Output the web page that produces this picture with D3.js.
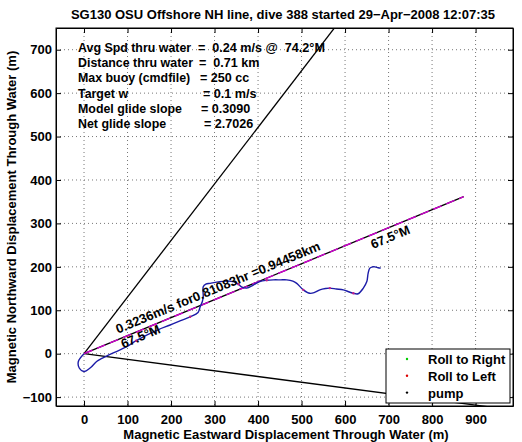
<!DOCTYPE html>
<html><head><meta charset="utf-8">
<script src="https://cdn.jsdelivr.net/npm/d3@7"></script>
<style>
body{margin:0;background:#fff;}
text{font-family:"Liberation Sans",Arial,Helvetica,sans-serif;font-weight:bold;}
</style></head>
<body>
<script>
// ---- data ----
const xTicks = [0,100,200,300,400,500,600,700,800,900];
const yTicks = [-100,0,100,200,300,400,500,600,700];
const trackX = [0,-13,-11,0,14,29,41,70,98,120,144,170,198,222,244,262,267,272,274,274,280,290,312,330,343,355,362,374,389,404,420,435,452,466,480,489,504,519,530,542,555,565,580,596,610,619,630,642,650,653,657,663,669,676,682];
const trackY = [0,-18,-33,-41,-33,-18,-11,3,16,30,43,55,66,76,85,95,108,120,131,154,160,162,166,167,166,160,154,151,158,166,169,170,170,170,167,162,147,139,141,147,150,151,149,147,142,139,138,151,166,185,197,200,200,198,197];
const headingLines = [37.5, 97.5];     // bounding headings (deg M)
const netHeading = 67.5;               // net heading (deg M)
const netDistance = 944.58;            // m
const infoLabels = ["Avg Spd thru water","Distance thru water","Max buoy (cmdfile)","Target w","Model glide slope","Net glide slope"];
const infoValues = ["=  0.24 m/s @  74.2°M","=  0.71 km","= 250 cc","= 0.1 m/s","= 0.3090","= 2.7026"];
const legendNames = ["Roll to Right","Roll to Left","pump"];
const legendColors = ["#00cc00","#dd0000","#000000"];
const rollLeftIdx = [9,14,25,30,36,41,45];

// ---- layout ----
const W=522,H=442;
const svg=d3.select("body").append("svg").attr("width",W).attr("height",H);
const L=56,R=513,T=28,B=406;
const x=d3.scaleLinear().domain([-64.4,986]).range([L,R]);
const y=d3.scaleLinear().domain([-120.5,750]).range([B,T]);
const FS="13px";

svg.append("defs").append("clipPath").attr("id","clip")
  .append("rect").attr("x",L).attr("y",T).attr("width",R-L).attr("height",B-T);

// grid
const g=svg.append("g");
g.selectAll(".gx").data(xTicks).enter().append("line")
  .attr("x1",d=>x(d)).attr("x2",d=>x(d)).attr("y1",T).attr("y2",B)
  .attr("stroke","#777").attr("stroke-width",1).attr("stroke-dasharray","1,3");
g.selectAll(".gy").data(yTicks).enter().append("line")
  .attr("y1",d=>y(d)).attr("y2",d=>y(d)).attr("x1",L).attr("x2",R)
  .attr("stroke","#777").attr("stroke-width",1).attr("stroke-dasharray","1,3");

// axes
const fmt=d=>d<0?"\u2212"+Math.abs(d):d;
const ax=d3.axisBottom(x).tickValues(xTicks).tickSizeInner(-5).tickSizeOuter(0).tickPadding(9).tickFormat(fmt);
const ay=d3.axisLeft(y).tickValues(yTicks).tickSizeInner(-5).tickSizeOuter(0).tickPadding(4).tickFormat(fmt);
svg.append("g").attr("transform",`translate(0,${B})`).call(ax);
svg.append("g").attr("transform",`translate(${L},0)`).call(ay);
svg.append("g").attr("transform",`translate(0,${T})`).call(d3.axisTop(x).tickValues(xTicks).tickSizeInner(-5).tickSizeOuter(0).tickFormat(""));
svg.append("g").attr("transform",`translate(${R},0)`).call(d3.axisRight(y).tickValues(yTicks).tickSizeInner(-5).tickSizeOuter(0).tickFormat(""));
svg.selectAll(".domain").attr("stroke","#000");
svg.selectAll(".tick line").attr("stroke","#000");
svg.selectAll(".tick text").attr("font-size",FS).attr("font-weight","bold").attr("fill","#000")
  .style("font-family","'Liberation Sans',Arial,sans-serif");
svg.append("rect").attr("x",L).attr("y",T).attr("width",R-L).attr("height",B-T)
  .attr("fill","none").attr("stroke","#000").attr("stroke-width",1);

// plot content
const pc=svg.append("g").attr("clip-path","url(#clip)");
const rad=d=>d*Math.PI/180;
headingLines.forEach(h=>{
  pc.append("line").attr("x1",x(0)).attr("y1",y(0))
    .attr("x2",x(1200*Math.sin(rad(h)))).attr("y2",y(1200*Math.cos(rad(h))))
    .attr("stroke","#000").attr("stroke-width",1.3);
});
const ex=netDistance*Math.sin(rad(netHeading)), ey=netDistance*Math.cos(rad(netHeading));
pc.append("line").attr("x1",x(0)).attr("y1",y(0)).attr("x2",x(ex)).attr("y2",y(ey))
  .attr("stroke","#000").attr("stroke-width",1.3);
pc.append("line").attr("x1",x(0)).attr("y1",y(0)).attr("x2",x(ex)).attr("y2",y(ey))
  .attr("stroke","#d000d0").attr("stroke-width",1.4).attr("stroke-dasharray","9,5");

// track
const track=trackX.map((v,i)=>[v,trackY[i]]);
pc.append("path").datum(track)
  .attr("d",d3.line().x(d=>x(d[0])).y(d=>y(d[1])).curve(d3.curveCatmullRom))
  .attr("fill","none").attr("stroke","#1c1ca8").attr("stroke-width",1.4);
pc.selectAll(".rl").data(rollLeftIdx).enter().append("circle")
  .attr("cx",i=>x(trackX[i])).attr("cy",i=>y(trackY[i])).attr("r",1.2).attr("fill","#c0208a");

// line labels
const ang=-(90-netHeading);
function rotText(dx,dy,str){
  svg.append("text").attr("transform",`translate(${x(dx)},${y(dy)}) rotate(${ang})`)
    .attr("font-size",FS).attr("fill","#000").text(str);
}
rotText(78,46,"0.3236m/s for0.81083hr =0.94458km");
rotText(90,12,"67.5°M");
rotText(664,241,"67.5°M");

// info text
const info=svg.append("g");
const valX=[198,199,200,203,201,204];
infoLabels.forEach((t,i)=>{
  const yy=52+i*15.2;
  info.append("text").attr("x",78).attr("y",yy).attr("font-size","12.4px").text(t);
  info.append("text").attr("x",valX[i]).attr("y",yy).attr("font-size","12.6px").style("white-space","pre").text(infoValues[i]);
});

// legend
const lg=svg.append("g");
lg.append("rect").attr("x",386).attr("y",349).attr("width",124).attr("height",54)
  .attr("fill","#fff").attr("stroke","#000");
legendNames.forEach((n,i)=>{
  const yy=359+i*16.8;
  lg.append("circle").attr("cx",407).attr("cy",yy).attr("r",1.2).attr("fill",legendColors[i]);
  lg.append("text").attr("x",428).attr("y",yy+5).attr("font-size",FS).text(n);
});

// titles
svg.append("text").attr("x",283).attr("y",19).attr("text-anchor","middle").attr("font-size",FS)
  .text("SG130 OSU Offshore NH line, dive 388 started 29\u2212Apr\u22122008 12:07:35");
svg.append("text").attr("x",286).attr("y",439).attr("text-anchor","middle").attr("font-size",FS)
  .text("Magnetic Eastward Displacement Through Water (m)");
svg.append("text").attr("transform",`translate(16,${(T+B)/2}) rotate(-90)`).attr("text-anchor","middle").attr("font-size",FS)
  .text("Magnetic Northward Displacement Through Water (m)");
</script>
</body></html>
